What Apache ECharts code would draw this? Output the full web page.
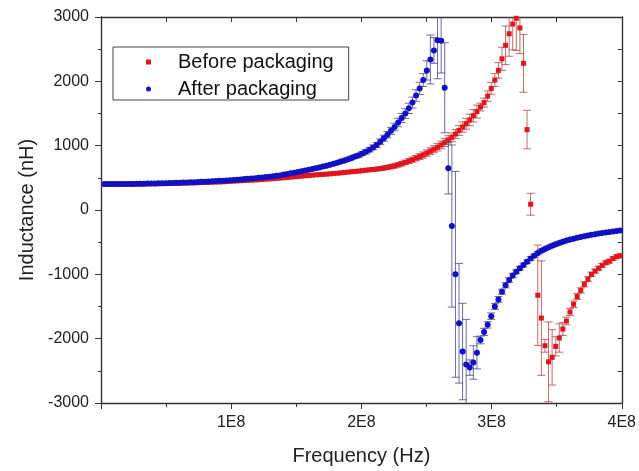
<!DOCTYPE html>
<html>
<head>
<meta charset="utf-8">
<script src="https://cdn.jsdelivr.net/npm/echarts@6/dist/echarts.min.js"></script>
<style>
  html, body { margin: 0; padding: 0; background: #fff; }
  #chart { width: 639px; height: 471px; }
</style>
</head>
<body>
<div id="chart"></div>
<script>
// frequency in MHz
const freqMHz = [
  2.75, 5.5, 8.25, 11, 13.75, 16.5, 19.25, 22, 24.75, 27.5,
  30.25, 33, 35.75, 38.5, 41.25, 44, 46.75, 49.5, 52.25, 55,
  57.75, 60.5, 63.25, 66, 68.75, 71.5, 74.25, 77, 79.75, 82.5,
  85.25, 88, 90.75, 93.5, 96.25, 99, 101.75, 104.5, 107.25, 110,
  112.75, 115.5, 118.25, 121, 123.75, 126.5, 129.25, 132, 134.75, 137.5,
  140.25, 143, 145.75, 148.5, 151.25, 154, 156.75, 159.5, 162.25, 165,
  167.75, 170.5, 173.25, 176, 178.75, 181.5, 184.25, 187, 189.75, 192.5,
  195.25, 198, 200.75, 203.5, 206.25, 209, 211.75, 214.5, 217.25, 220,
  222.75, 225.5, 228.25, 231, 233.75, 236.5, 239.25, 242, 244.75, 247.5,
  250.25, 253, 255.75, 258.5, 261.25, 264, 266.75, 269.5, 272.25, 275,
  277.75, 280.5, 283.25, 286, 288.75, 291.5, 294.25, 297, 299.75, 302.5,
  305.25, 308, 310.75, 313.5, 316.25, 319, 321.75, 324.5, 327.25, 330,
  332.75, 335.5, 338.25, 341, 343.75, 346.5, 349.25, 352, 354.75, 357.5,
  360.25, 363, 365.75, 368.5, 371.25, 374, 376.75, 379.5, 382.25, 385,
  387.75, 390.5, 393.25, 396, 398.75
];

// inductance in nH
const beforeL = [
  401, 401, 402, 402, 402, 403, 403, 404, 404, 405,
  405, 406, 407, 408, 408, 409, 410, 411, 412, 414,
  415, 416, 418, 419, 421, 422, 424, 426, 428, 430,
  432, 434, 436, 439, 442, 446, 449, 452, 455, 458,
  461, 464, 468, 471, 475, 479, 483, 487, 492, 496,
  501, 506, 511, 516, 522, 527, 532, 537, 542, 546,
  550, 554, 558, 562, 567, 572, 577, 583, 589, 595,
  600, 605, 611, 618, 624, 630, 636, 643, 652, 662,
  673, 685, 702, 720, 740, 760, 782, 805, 830, 855,
  884, 915, 945, 975, 1012, 1050, 1090, 1130, 1180, 1235,
  1290, 1340, 1400, 1465, 1530, 1600, 1670, 1770, 1890, 2020,
  2170, 2350, 2560, 2740, 2890, 2980, 2830, 2280, 1250, 90,
  null, -1325, -1680, -2110, -2360, -2290, -2120, -1990, -1850, -1725,
  -1585, -1465, -1345, -1250, -1155, -1075, -1000, -950, -905, -860,
  -820, -795, -755, -725, -710
];
const beforeErr = [
  20, 20, 20, 20, 20, 20, 20, 20, 20, 20,
  20, 20, 20, 20, 20, 20, 20, 20, 20, 20,
  20, 20, 20, 20, 20, 20, 20, 20, 20, 20,
  20, 20, 20, 20, 20, 20, 20, 20, 20, 20,
  20, 20, 20, 20, 20, 20, 20, 20, 20, 20,
  20, 20, 20, 20, 20, 20, 20, 20, 20, 20,
  20, 20, 20, 20, 20, 20, 20, 20, 20, 20,
  20, 22, 22, 22, 25, 25, 25, 28, 28, 30,
  30, 32, 32, 35, 35, 38, 40, 42, 45, 48,
  50, 52, 55, 58, 60, 62, 65, 68, 70, 75,
  80, 85, 90, 95, 100, 60, 70, 80, 90, 100,
  120, 180, 300, 350, 400, 500, 400, 450, 300, 170,
  0, 780, 890, 100, 620, 430, 150, 220, 100, 60,
  55, 50, 45, 40, 40, 35, 35, 30, 30, 30,
  28, 28, 25, 25, 25
];

const afterL = [
  403, 403, 403, 404, 404, 404, 405, 406, 406, 407,
  408, 409, 410, 411, 412, 414, 415, 417, 418, 420,
  422, 424, 426, 428, 430, 433, 435, 438, 441, 443,
  446, 450, 453, 456, 460, 463, 467, 471, 475, 480,
  485, 490, 495, 500, 506, 512, 518, 524, 531, 538,
  550, 560, 570, 580, 592, 603, 614, 625, 637, 649,
  662, 675, 689, 704, 719, 735, 752, 770, 790, 810,
  830, 850, 877, 906, 938, 973, 1010, 1060, 1115, 1170,
  1230, 1290, 1360, 1430, 1500, 1580, 1670, 1780, 1890, 2020,
  2170, 2340, 2480, 2640, 2630, 1900, 650, -250, -1000, -1760,
  -2200, -2400, -2450, -2370, -2220, -2020, -1895, -1785, -1650, -1500,
  -1390, -1270, -1170, -1090, -1020, -960, -905, -855, -805, -755,
  -710, -670, -635, -605, -580, -555, -533, -512, -493, -476,
  -460, -446, -433, -420, -408, -397, -386, -376, -366, -357,
  -349, -341, -334, -327, -320
];
const afterErr = [
  20, 20, 20, 20, 20, 20, 20, 20, 20, 20,
  20, 20, 20, 20, 20, 20, 20, 20, 20, 20,
  20, 20, 20, 20, 20, 20, 20, 20, 20, 20,
  20, 20, 20, 20, 20, 20, 20, 20, 20, 20,
  20, 20, 20, 20, 20, 20, 20, 20, 20, 20,
  20, 20, 20, 20, 20, 20, 20, 20, 22, 22,
  22, 22, 22, 22, 22, 25, 25, 25, 28, 28,
  30, 30, 32, 35, 35, 38, 40, 45, 48, 50,
  55, 60, 65, 70, 75, 80, 85, 90, 95, 100,
  150, 380, 200, 600, 500, 700, 400, 1260, 1600, 930,
  750, 700, 120, 260, 250, 60, 55, 50, 50, 45,
  45, 40, 40, 35, 35, 30, 30, 30, 28, 28,
  25, 25, 25, 25, 25, 25, 25, 25, 25, 25,
  22, 22, 22, 22, 22, 22, 22, 22, 22, 22,
  20, 20, 20, 20, 20
];

const xTicks = [0, 1e8, 2e8, 3e8, 4e8];
const yTicks = [-3000, -2000, -1000, 0, 1000, 2000, 3000];

const FONT = '"Liberation Sans", Arial, sans-serif';
const RED = '#e3141c';
const BLUE = '#1010c4';

function points(vals) {
  let out = [];
  freqMHz.forEach((f, i) => {
    if (vals[i] !== null) out.push([f * 1e6, vals[i]]);
  });
  return out;
}

function errPoints(vals, errs) {
  let out = [];
  freqMHz.forEach((f, i) => {
    if (vals[i] !== null) out.push([f * 1e6, vals[i], errs[i]]);
  });
  return out;
}

function errRender(color) {
  return function (params, api) {
    let x = api.value(0), y = api.value(1), e = api.value(2);
    let hi = api.coord([x, y + e]);
    let lo = api.coord([x, y - e]);
    let w = 4;
    let st = { stroke: color, lineWidth: 1 };
    return {
      type: 'group',
      children: [
        { type: 'line', shape: { x1: hi[0], y1: hi[1], x2: lo[0], y2: lo[1] }, style: st },
        { type: 'line', shape: { x1: hi[0] - w, y1: hi[1], x2: hi[0] + w, y2: hi[1] }, style: st },
        { type: 'line', shape: { x1: lo[0] - w, y1: lo[1], x2: lo[0] + w, y2: lo[1] }, style: st }
      ]
    };
  };
}

let chart = echarts.init(document.getElementById('chart'), null, { renderer: 'canvas' });

let option = {
  animation: false,
  backgroundColor: '#fff',
  textStyle: { fontFamily: FONT },
  grid: { left: 101, right: 15, top: 17, bottom: 67 },
  legend: {
    data: ['Before packaging', 'After packaging'],
    orient: 'vertical',
    left: 113,
    top: 47,
    padding: [5, 15, 1, 33],
    itemGap: 7,
    itemWidth: 5,
    itemHeight: 5,
    borderColor: '#444',
    borderWidth: 1,
    selectedMode: false,
    textStyle: { fontSize: 20, fontFamily: FONT, color: '#111', padding: [0, 0, 0, 22] }
  },
  xAxis: [
    {
      type: 'value',
      position: 'bottom',
      min: xTicks[0],
      max: xTicks[xTicks.length - 1],
      interval: 1e8,
      name: 'Frequency (Hz)',
      nameLocation: 'middle',
      nameGap: 43,
      nameTextStyle: { fontSize: 20, color: '#222', fontFamily: FONT },
      axisLine: { show: true, onZero: false, lineStyle: { color: '#333', width: 1.4 } },
      axisTick: { show: true, inside: false, length: 6, lineStyle: { color: '#333' } },
      minorTick: { show: true, splitNumber: 2, length: 4, lineStyle: { color: '#333' } },
      splitLine: { show: false },
      axisLabel: {
        margin: 12,
        fontSize: 16,
        color: '#222',
        fontFamily: FONT,
        formatter: v => (v === 0 ? '' : (v / 1e8) + 'E8')
      }
    },
    {
      type: 'value',
      position: 'top',
      min: xTicks[0],
      max: xTicks[xTicks.length - 1],
      interval: 0.5e8,
      axisLine: { show: true, onZero: false, lineStyle: { color: '#333', width: 1.4 } },
      axisTick: { show: true, inside: true, length: 5, lineStyle: { color: '#333' } },
      axisLabel: { show: false },
      splitLine: { show: false }
    }
  ],
  yAxis: [
    {
      type: 'value',
      position: 'left',
      min: yTicks[0],
      max: yTicks[yTicks.length - 1],
      interval: 1000,
      name: 'Inductance (nH)',
      nameLocation: 'middle',
      nameGap: 62,
      nameTextStyle: { fontSize: 20, color: '#222', fontFamily: FONT },
      axisLine: { show: true, onZero: false, lineStyle: { color: '#333', width: 1.4 } },
      axisTick: { show: true, inside: false, length: 6, lineStyle: { color: '#333' } },
      minorTick: { show: true, splitNumber: 2, length: 3, lineStyle: { color: '#333' } },
      splitLine: { show: false },
      axisLabel: { margin: 12, fontSize: 16, color: '#222', fontFamily: FONT, formatter: v => String(v) }
    },
    {
      type: 'value',
      position: 'right',
      min: yTicks[0],
      max: yTicks[yTicks.length - 1],
      interval: 500,
      axisLine: { show: true, onZero: false, lineStyle: { color: '#333', width: 1.4 } },
      axisTick: { show: true, inside: true, length: 4, lineStyle: { color: '#333' } },
      axisLabel: { show: false },
      splitLine: { show: false }
    }
  ],
  series: [
    {
      name: 'Before error',
      type: 'custom',
      clip: true,
      renderItem: errRender('rgba(180, 70, 70, 0.8)'),
      data: errPoints(beforeL, beforeErr),
      z: 1
    },
    {
      name: 'Before packaging',
      type: 'scatter',
      symbol: 'rect',
      symbolSize: 5,
      itemStyle: { color: RED, opacity: 1 },
      clip: true,
      data: points(beforeL),
      z: 2
    },
    {
      name: 'After error',
      type: 'custom',
      clip: true,
      renderItem: errRender('rgba(70, 70, 150, 0.8)'),
      data: errPoints(afterL, afterErr),
      z: 3
    },
    {
      name: 'After packaging',
      type: 'scatter',
      symbol: 'circle',
      symbolSize: 6,
      itemStyle: { color: BLUE, opacity: 1 },
      clip: true,
      data: points(afterL),
      z: 4
    }
  ]
};

option && chart.setOption(option);
</script>
</body>
</html>
